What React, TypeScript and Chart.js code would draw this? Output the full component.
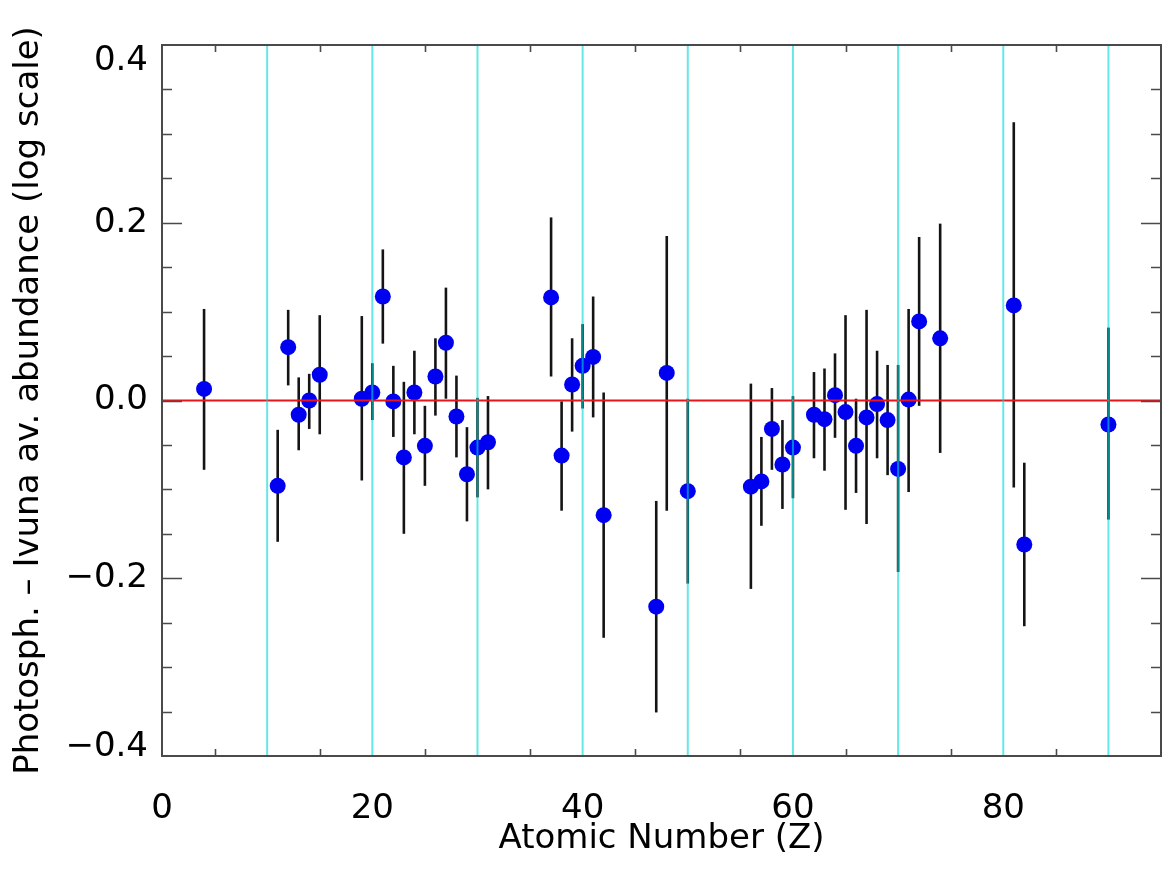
import React, { useEffect, useRef } from "react";
import { Chart, registerables } from "chart.js";

Chart.register(...registerables);

// Atomic number of each element shown
const atomicNumber = [
  4, 11, 12, 13, 14, 15, 19, 20, 21, 22, 23, 24, 25, 26, 27, 28, 29, 30, 31,
  37, 38, 39, 40, 41, 42, 47, 48, 50,
  56, 57, 58, 59, 60, 62, 63, 64, 65, 66, 67, 68, 69, 70, 71, 72, 74,
  81, 82, 90,
];

// Photospheric minus Ivuna abundance (dex)
const abundanceDiff = [
  0.013, -0.096, 0.06, -0.016, 0.0, 0.029, 0.002, 0.009, 0.117, -0.001, -0.064, 0.009, -0.051, 0.027, 0.065, -0.018, -0.083, -0.053, -0.047,
  0.116, -0.062, 0.018, 0.039, 0.049, -0.129, -0.232, 0.031, -0.102,
  -0.097, -0.091, -0.032, -0.072, -0.053, -0.016, -0.021, 0.006, -0.013, -0.051, -0.019, -0.004, -0.022, -0.077, 0.001, 0.089, 0.07,
  0.107, -0.162, -0.027,
];

// Upper end of each error bar
const upperBound = [
  0.103, -0.033, 0.102, 0.026, 0.03, 0.096, 0.095, 0.042, 0.17, 0.039, 0.021, 0.056, -0.006, 0.07, 0.127, 0.028, -0.03, 0.003, 0.005,
  0.206, -0.001, 0.07, 0.086, 0.117, 0.009, -0.113, 0.185, 0.002,
  0.019, -0.041, 0.014, -0.022, 0.005, 0.032, 0.036, 0.053, 0.096, 0.002, 0.102, 0.056, 0.04, 0.04, 0.103, 0.184, 0.199,
  0.313, -0.07, 0.082,
];

// Lower end of each error bar
const lowerBound = [
  -0.078, -0.159, 0.017, -0.056, -0.032, -0.038, -0.09, -0.022, 0.064, -0.041, -0.15, -0.038, -0.096, -0.017, 0.002, -0.064, -0.136, -0.109, -0.1,
  0.027, -0.124, -0.035, -0.009, -0.019, -0.267, -0.351, -0.124, -0.206,
  -0.212, -0.141, -0.078, -0.122, -0.11, -0.065, -0.079, -0.042, -0.123, -0.104, -0.139, -0.065, -0.084, -0.193, -0.103, -0.006, -0.059,
  -0.098, -0.254, -0.134,
];

const xTickValues = [0, 20, 40, 60, 80];
const yTickValues = [-0.4, -0.2, 0.0, 0.2, 0.4];
const guideLineZ = [10, 20, 30, 40, 50, 60, 70, 80, 90];
const xMin = 0;
const xMax = 95;
const yMin = -0.4;
const yMax = 0.4;
const xMinorStep = 5;
const yMinorStep = 0.05;

const FONT = "'DejaVu Sans', 'Liberation Sans', sans-serif";

function formatY(v: number): string {
  const s = Math.abs(v).toFixed(1);
  return v < -1e-9 ? "\u2212" + s : s;
}

const overlayPlugin = {
  id: "idlOverlay",
  beforeDatasetsDraw(chart: any) {
    const { ctx, scales } = chart;
    const x = scales.x;
    const y = scales.y;
    ctx.save();
    ctx.strokeStyle = "#141414";
    ctx.lineWidth = 2.6;
    for (let i = 0; i < atomicNumber.length; i++) {
      const px = x.getPixelForValue(atomicNumber[i]);
      ctx.beginPath();
      ctx.moveTo(px, y.getPixelForValue(upperBound[i]));
      ctx.lineTo(px, y.getPixelForValue(lowerBound[i]));
      ctx.stroke();
    }
    ctx.restore();
  },
  afterDatasetsDraw(chart: any) {
    const { ctx, scales, chartArea } = chart;
    const x = scales.x;
    const y = scales.y;
    ctx.save();
    ctx.strokeStyle = "#e8141a";
    ctx.lineWidth = 2;
    const y0 = y.getPixelForValue(0);
    ctx.beginPath();
    ctx.moveTo(chartArea.left, y0);
    ctx.lineTo(chartArea.right, y0);
    ctx.stroke();
    ctx.strokeStyle = "rgba(0, 215, 215, 0.6)";
    ctx.lineWidth = 2;
    for (const g of guideLineZ) {
      const px = x.getPixelForValue(g);
      ctx.beginPath();
      ctx.moveTo(px, chartArea.top);
      ctx.lineTo(px, chartArea.bottom);
      ctx.stroke();
    }
    ctx.restore();
  },
  afterDraw(chart: any) {
    const { ctx, scales, chartArea } = chart;
    const x = scales.x;
    const y = scales.y;
    const { left, right, top, bottom } = chartArea;
    ctx.save();
    ctx.strokeStyle = "#4a4a4a";
    ctx.lineWidth = 2;
    ctx.strokeRect(left, top, right - left, bottom - top);

    const nY = Math.round((yMax - yMin) / yMinorStep);
    for (let k = 1; k < nY; k++) {
      const v = yMin + k * yMinorStep;
      const py = Math.round(y.getPixelForValue(v)) + 0.5;
      const major = k % 4 === 0;
      const len = major ? 20 : 10;
      ctx.lineWidth = 1.6;
      ctx.beginPath();
      ctx.moveTo(left, py);
      ctx.lineTo(left + len, py);
      ctx.moveTo(right, py);
      ctx.lineTo(right - len, py);
      ctx.stroke();
    }
    const nX = Math.round((xMax - xMin) / xMinorStep);
    for (let k = 1; k < nX; k++) {
      if (k % 2 === 0) continue;
      const v = xMin + k * xMinorStep;
      const px = Math.round(x.getPixelForValue(v)) + 0.5;
      ctx.lineWidth = 1.6;
      ctx.beginPath();
      ctx.moveTo(px, bottom);
      ctx.lineTo(px, bottom - 7);
      ctx.moveTo(px, top);
      ctx.lineTo(px, top + 7);
      ctx.stroke();
    }

    ctx.fillStyle = "#000";
    ctx.font = `34px ${FONT}`;
    ctx.textAlign = "right";
    for (const v of yTickValues) {
      const py = y.getPixelForValue(v);
      if (Math.abs(v - yMax) < 1e-9) ctx.textBaseline = "top";
      else if (Math.abs(v - yMin) < 1e-9) ctx.textBaseline = "bottom";
      else ctx.textBaseline = "middle";
      const dy = ctx.textBaseline === "top" ? -1 : ctx.textBaseline === "bottom" ? 8 : 0;
      ctx.fillText(formatY(v), left - 14, py + dy);
    }
    ctx.restore();
  },
};

export default function App() {
  const canvasRef = useRef<HTMLCanvasElement | null>(null);

  useEffect(() => {
    if (!canvasRef.current) return;
    const points = atomicNumber.map((z, i) => ({ x: z, y: abundanceDiff[i] }));
    const chart = new Chart(canvasRef.current, {
      type: "scatter",
      data: {
        datasets: [
          {
            label: "Photosph. - Ivuna",
            data: points,
            backgroundColor: "#0000f0",
            borderWidth: 0,
            pointRadius: 8,
            pointHoverRadius: 8,
          },
        ],
      },
      options: {
        animation: false,
        responsive: true,
        maintainAspectRatio: false,
        layout: { autoPadding: false, padding: { left: 0, right: 3, top: 45, bottom: 0 } },
        plugins: {
          legend: { display: false },
          tooltip: { enabled: false },
        },
        scales: {
          x: {
            type: "linear",
            min: xMin,
            max: xMax,
            grid: { display: false, drawTicks: false },
            border: { display: false },
            afterBuildTicks: (scale: any) => {
              scale.ticks = xTickValues.map((v) => ({ value: v }));
            },
            afterFit: (scale: any) => {
              scale.height = 114;
              scale.paddingLeft = 0;
              scale.paddingRight = 0;
            },
            ticks: {
              color: "#000",
              font: { family: FONT, size: 34 },
              padding: 33,
              maxRotation: 0,
              autoSkip: false,
              callback: (v: any) => String(v),
            },
            title: {
              display: true,
              text: "Atomic Number (Z)",
              color: "#000",
              font: { family: FONT, size: 34 },
              padding: { top: 0, bottom: 10 },
            },
          },
          y: {
            type: "linear",
            min: yMin,
            max: yMax,
            grid: { display: false, drawTicks: false },
            border: { display: false },
            afterBuildTicks: (scale: any) => {
              scale.ticks = yTickValues.map((v) => ({ value: v }));
            },
            afterFit: (scale: any) => {
              scale.width = 162;
              scale.paddingTop = 0;
              scale.paddingBottom = 0;
            },
            ticks: { display: false },
            title: {
              display: true,
              text: "Photosph. \u2013 Ivuna av. abundance (log scale)",
              color: "#000",
              font: { family: FONT, size: 34 },
              padding: { top: 9, bottom: 0 },
            },
          },
        },
      },
      plugins: [overlayPlugin],
    });
    return () => chart.destroy();
  }, []);

  return (
    <div style={{ position: "fixed", left: 0, top: 0, width: 1164, height: 870, background: "#fff" }}>
      <canvas ref={canvasRef} />
    </div>
  );
}
